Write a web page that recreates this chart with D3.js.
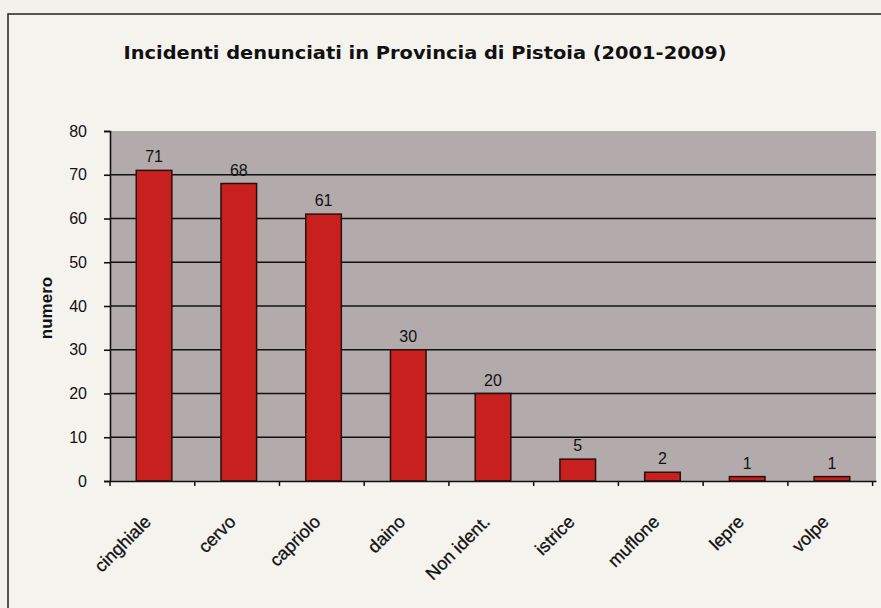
<!DOCTYPE html>
<html>
<head>
<meta charset="utf-8">
<script src="https://cdn.jsdelivr.net/npm/d3@7"></script>
<style>
  body { margin: 0; background: #f3f1ec; }
  svg { display: block; }
</style>
</head>
<body>
<svg width="881" height="608"></svg>
<script>
// Dati
const categories = ["cinghiale", "cervo", "capriolo", "daino", "Non ident.", "istrice", "muflone", "lepre", "volpe"];
const values = [71, 68, 61, 30, 20, 5, 2, 1, 1];
const yTicks = [0, 10, 20, 30, 40, 50, 60, 70, 80];

const svg = d3.select("svg"),
      margin = { top: 131, right: 5, bottom: 127, left: 110 },
      width = svg.attr("width") - margin.left - margin.right,
      height = svg.attr("height") - margin.top - margin.bottom;

// cornice esterna
svg.append("rect")
    .attr("x", 8).attr("y", 14)
    .attr("width", 900).attr("height", 620)
    .attr("fill", "#f5f3ee")
    .attr("stroke", "#222")
    .attr("stroke-width", 1.5);

svg.append("text")
    .attr("x", 425).attr("y", 59)
    .attr("text-anchor", "middle")
    .attr("font-family", "DejaVu Sans")
    .attr("font-weight", "bold")
    .attr("font-size", 18)
    .attr("textLength", 603)
    .attr("lengthAdjust", "spacingAndGlyphs")
    .attr("fill", "#111")
    .text("Incidenti denunciati in Provincia di Pistoia (2001-2009)");

const chart = svg.append("g")
    .attr("transform", `translate(${margin.left},${margin.top})`);

const x = d3.scaleBand()
    .domain(categories)
    .range([0, width])
    .paddingInner(0.58)
    .paddingOuter(0.31);

const y = d3.scaleLinear()
    .domain([0, 80])
    .range([height, 0]);

chart.append("rect")
    .attr("width", width).attr("height", height)
    .attr("fill", "#b2aaab");

// griglia
chart.selectAll(".grid")
    .data(yTicks.filter(d => d > 0 && d < 80))
    .join("line")
    .attr("x1", 0).attr("x2", width)
    .attr("y1", d => y(d)).attr("y2", d => y(d))
    .attr("stroke", "#111")
    .attr("stroke-width", 1.6);

chart.selectAll(".bar")
    .data(values)
    .join("rect")
    .attr("class", "bar")
    .attr("x", (d, i) => x(categories[i]))
    .attr("y", d => y(d))
    .attr("width", x.bandwidth())
    .attr("height", d => height - y(d))
    .attr("fill", "#c8201f")
    .attr("stroke", "#2a0e0e")
    .attr("stroke-width", 1.5);

chart.selectAll(".val")
    .data(values)
    .join("text")
    .attr("x", (d, i) => x(categories[i]) + x.bandwidth() / 2)
    .attr("y", d => y(d) - 8)
    .attr("text-anchor", "middle")
    .attr("font-family", "Liberation Sans, Arial")
    .attr("font-size", 16)
    .attr("fill", "#111")
    .text(d => d);

// asse y
const yAxis = chart.append("g")
    .call(d3.axisLeft(y).tickValues(yTicks).tickSize(6).tickPadding(17));
yAxis.select(".domain").attr("stroke", "#111").attr("stroke-width", 1.6);
yAxis.selectAll(".tick line").attr("stroke", "#111").attr("stroke-width", 1.6);
yAxis.selectAll("text")
    .attr("font-family", "Liberation Sans, Arial")
    .attr("font-size", 16)
    .attr("fill", "#111");

// asse x
const xAxis = chart.append("g")
    .attr("transform", `translate(0,${height})`)
    .call(d3.axisBottom(x).tickSize(0).tickPadding(0));
xAxis.select(".domain").attr("stroke", "#111").attr("stroke-width", 1.6);
xAxis.selectAll(".tick text").remove();

// tacche tra le categorie
chart.selectAll(".xtick")
    .data(d3.range(categories.length + 1))
    .join("line")
    .attr("x1", i => i * x.step()).attr("x2", i => i * x.step())
    .attr("y1", height).attr("y2", height + 5)
    .attr("stroke", "#111").attr("stroke-width", 1.5);

chart.selectAll(".xlab")
    .data(categories)
    .join("text")
    .attr("transform", d => `translate(${x(d) + x.bandwidth() / 2 - 2},${height + 42}) rotate(-45)`)
    .attr("text-anchor", "end")
    .attr("font-family", "Liberation Sans, Arial")
    .attr("font-size", 18)
    .attr("fill", "#111")
    .attr("stroke", "#111")
    .attr("stroke-width", 0.3)
    .text(d => d);

svg.append("text")
    .attr("transform", `translate(52,${margin.top + 177}) rotate(-90)`)
    .attr("text-anchor", "middle")
    .attr("font-family", "Liberation Sans, Arial")
    .attr("font-weight", "bold")
    .attr("font-size", 17)
    .attr("fill", "#111")
    .text("numero");
</script>
</body>
</html>
